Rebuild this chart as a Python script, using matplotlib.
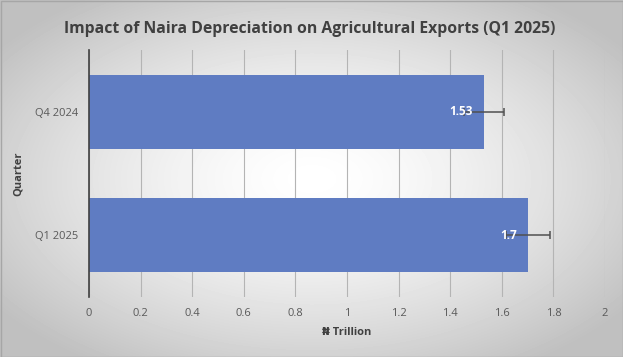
#!/usr/bin/env python

import numpy as np
import matplotlib
matplotlib.use("Agg")
import matplotlib.pyplot as plt


quarters = ["Q1 2025", "Q4 2024"]
export_values = [1.7, 1.53]
error_pct = 0.05

TITLE = "Impact of Naira Depreciation on Agricultural Exports (Q1 2025)"
BAR_COLOR = "#5f7cc2"
TEXT_GRAY = "#595959"
FONTS = ["Open Sans", "DejaVu Sans"]


def radial_background(fig):
    bg = fig.add_axes([0, 0, 1, 1], zorder=-10)
    h, w = 357, 623
    yy, xx = np.mgrid[0:h, 0:w]
    r = np.sqrt(((xx - w / 2) / (w / 2)) ** 2 + ((yy - h / 2) / (h / 2)) ** 2) / 1.25
    shade = 1 - 0.25 * np.clip(r, 0, 1) ** 1.5
    bg.imshow(shade, cmap="gray", vmin=0, vmax=1, aspect="auto", interpolation="bilinear")
    bg.set_axis_off()
    # thin frame round the chart
    bg.add_patch(plt.Rectangle((0, 0), w - 1, h - 1, fill=False, ec="#a6a6a6", lw=1))


def main():
    plt.rcParams["font.family"] = FONTS
    fig = plt.figure(figsize=(6.23, 3.57), dpi=100)
    radial_background(fig)

    ax = fig.add_axes([0.1429, 0.168, 0.8283, 0.692])
    ax.patch.set_alpha(0)
    pos = np.arange(len(quarters))
    errs = [v * error_pct for v in export_values]
    ax.barh(pos, export_values, height=0.6, color=BAR_COLOR, zorder=3,
            xerr=errs, error_kw={"ecolor": "#505050", "elinewidth": 1.1, "capsize": 3, "capthick": 1.1})

    for p, v in zip(pos, export_values):
        ax.annotate(f"{v:g}", xy=(v, p), xytext=(-8, 0), textcoords="offset points",
                    ha="right", va="center", color="white", fontsize=8.5,
                    fontweight="bold", zorder=5)

    ax.set_xlim(0, 2)
    ax.set_ylim(-0.5, 1.5)
    ticks = np.arange(0, 2.01, 0.2)
    ax.set_xticks(ticks)
    ax.set_xticklabels([f"{t:g}" for t in ticks])
    ax.set_yticks(pos)
    ax.set_yticklabels(quarters)
    ax.grid(axis="x", color="#b4b4b4", lw=0.8, zorder=0)
    ax.tick_params(length=0, colors=TEXT_GRAY, labelsize=8, pad=8)
    for s in ["top", "right", "bottom"]:
        ax.spines[s].set_visible(False)
    ax.spines["left"].set_color("#404040")
    ax.spines["left"].set_linewidth(1.2)
    ax.spines["left"].set_zorder(4)

    ax.set_xlabel("\u20a6 Trillion", fontsize=8, fontweight="bold", color="#404040", labelpad=6)
    ax.set_ylabel("Quarter", fontsize=8, fontweight="bold", color="#404040", labelpad=8)
    fig.text(0.497, 0.92, TITLE, ha="center", va="center", fontsize=11.3,
             fontweight="bold", color="#404040")

    fig.savefig("out.png", dpi=100)


if __name__ == "__main__":
    main()
